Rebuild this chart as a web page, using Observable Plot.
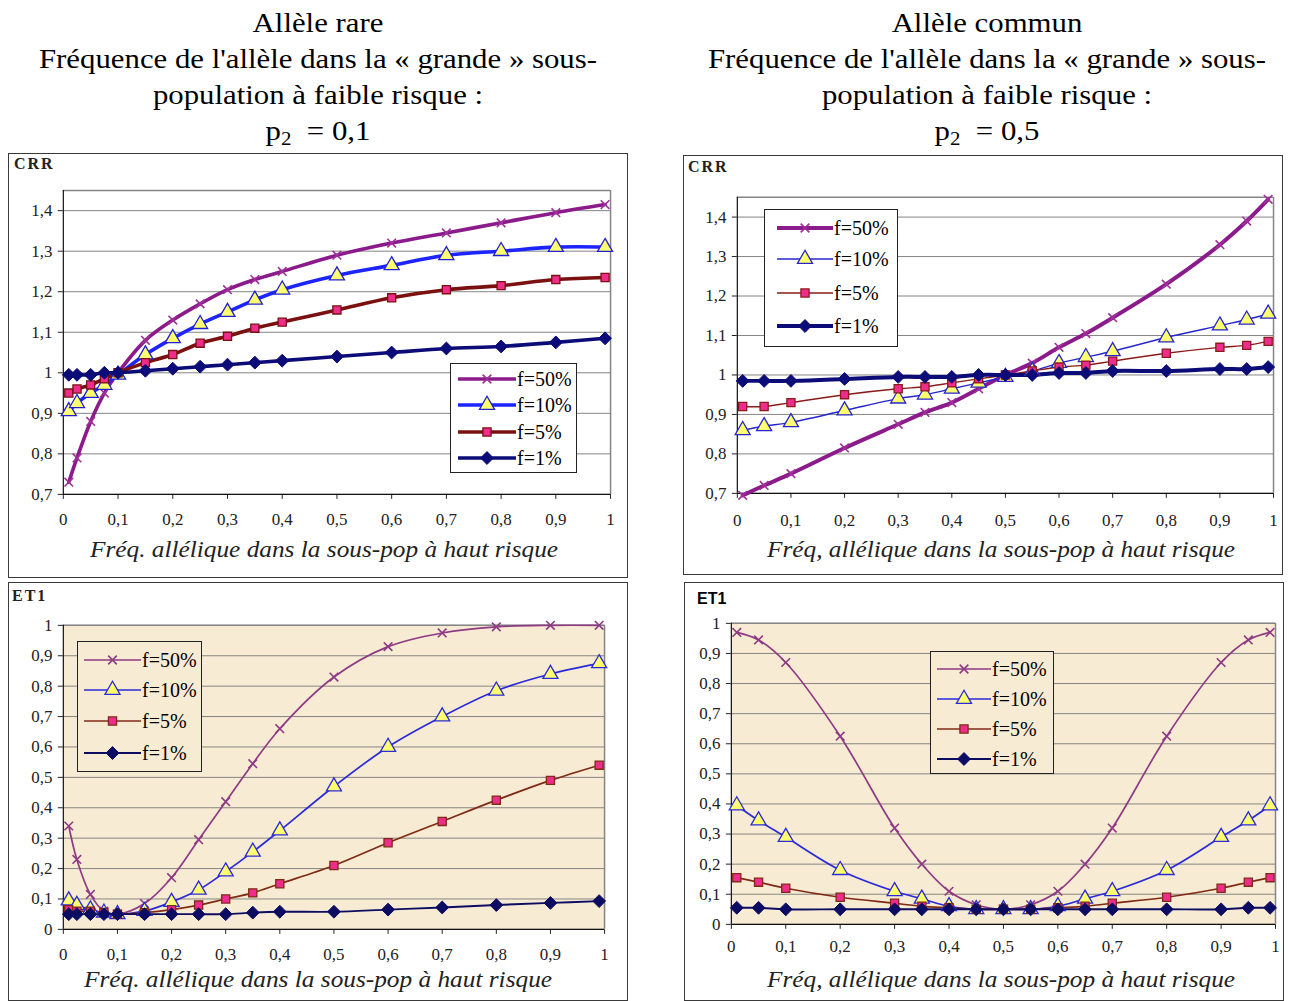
<!DOCTYPE html>
<html>
<head>
<meta charset="utf-8">
<script src="https://cdn.jsdelivr.net/npm/d3@7"></script>
<script src="https://cdn.jsdelivr.net/npm/@observablehq/plot@0.6"></script>
<style>
  html, body { margin: 0; padding: 0; background: #fff; }
  #page { position: relative; width: 1293px; height: 1001px; overflow: hidden; font-family: "Liberation Serif", "Times New Roman", serif; }
  .title { position: absolute; top: 5px; width: 640px; text-align: center; font-size: 28px; line-height: 36px; color: #000; transform: scaleX(1.1); transform-origin: 50% 0; }
  .title sub { font-size: 19px; vertical-align: -5px; line-height: 0; }
  .box { position: absolute; border: 1px solid #3a3a3a; box-sizing: border-box; background: #fff; }
  .box svg { position: absolute; left: -1px; top: -1px; overflow: visible; }
  .ylab { position: absolute; font-size: 16px; font-weight: bold; letter-spacing: 2px; color: #222; }
  .xt { position: absolute; font-style: italic; font-size: 23px; white-space: nowrap; transform: translate(-50%, -50%) scaleX(1.1); color: #222; }
  .legend { position: absolute; border: 1px solid #222; box-sizing: border-box; }
  .legend .row { position: absolute; left: 0; height: 20px; display: flex; align-items: center; font-size: 20px; white-space: nowrap; transform: translateY(-50%); }
</style>
</head>
<body>
<div id="page"></div>
<script>
// ---------------- DATA ----------------
const seriesNames = ["f=50%", "f=10%", "f=5%", "f=1%"];
const xTicks = [0, 0.1, 0.2, 0.3, 0.4, 0.5, 0.6, 0.7, 0.8, 0.9, 1];
const crrTicks = [0.7, 0.8, 0.9, 1, 1.1, 1.2, 1.3, 1.4];
const et1Ticks = [0, 0.1, 0.2, 0.3, 0.4, 0.5, 0.6, 0.7, 0.8, 0.9, 1];

// Allèle rare (p2 = 0,1)
const xRare = [0.01, 0.025, 0.05, 0.075, 0.1, 0.15, 0.2, 0.25, 0.3, 0.35, 0.4, 0.5, 0.6, 0.7, 0.8, 0.9, 0.99];
const crrRare50 = [0.73, 0.79, 0.88, 0.95, 1.0, 1.08, 1.13, 1.17, 1.205, 1.23, 1.25, 1.29, 1.32, 1.345, 1.37, 1.395, 1.415];
const crrRare10 = [0.905, 0.925, 0.95, 0.97, 0.995, 1.045, 1.085, 1.12, 1.15, 1.18, 1.205, 1.24, 1.265, 1.29, 1.30, 1.31, 1.31];
const crrRare5  = [0.95, 0.96, 0.97, 0.985, 1.0, 1.025, 1.045, 1.073, 1.09, 1.11, 1.125, 1.155, 1.185, 1.205, 1.215, 1.23, 1.235];
const crrRare1  = [0.995, 0.995, 0.995, 1.0, 1.0, 1.005, 1.01, 1.015, 1.02, 1.025, 1.03, 1.04, 1.05, 1.06, 1.065, 1.075, 1.085];
const et1Rare50 = [0.34, 0.23, 0.115, 0.06, 0.05, 0.085, 0.17, 0.295, 0.42, 0.545, 0.66, 0.83, 0.93, 0.975, 0.995, 1.0, 1.0];
const et1Rare10 = [0.095, 0.08, 0.065, 0.055, 0.05, 0.06, 0.09, 0.13, 0.19, 0.255, 0.325, 0.47, 0.60, 0.70, 0.785, 0.84, 0.875];
const et1Rare5  = [0.065, 0.06, 0.06, 0.055, 0.05, 0.055, 0.065, 0.08, 0.10, 0.12, 0.15, 0.21, 0.285, 0.355, 0.425, 0.49, 0.54];
const et1Rare1  = [0.05, 0.05, 0.05, 0.05, 0.05, 0.05, 0.05, 0.05, 0.05, 0.055, 0.058, 0.058, 0.065, 0.072, 0.08, 0.087, 0.093];

// Allèle commun (p2 = 0,5)
const xCommon = [0.01, 0.05, 0.1, 0.2, 0.3, 0.35, 0.4, 0.45, 0.5, 0.55, 0.6, 0.65, 0.7, 0.8, 0.9, 0.95, 0.99];
const crrCommon50 = [0.695, 0.72, 0.75, 0.815, 0.875, 0.905, 0.93, 0.965, 1.0, 1.03, 1.07, 1.105, 1.145, 1.23, 1.33, 1.39, 1.445];
const crrCommon10 = [0.86, 0.87, 0.88, 0.91, 0.94, 0.95, 0.965, 0.98, 0.995, 1.01, 1.03, 1.045, 1.06, 1.095, 1.125, 1.14, 1.155];
const crrCommon5  = [0.92, 0.92, 0.93, 0.95, 0.965, 0.97, 0.98, 0.99, 1.0, 1.01, 1.02, 1.025, 1.035, 1.055, 1.07, 1.075, 1.085];
const crrCommon1  = [0.985, 0.985, 0.985, 0.99, 0.995, 0.995, 0.995, 1.0, 1.0, 1.0, 1.005, 1.005, 1.01, 1.01, 1.015, 1.015, 1.02];
const et1Common50 = [0.97, 0.945, 0.87, 0.625, 0.32, 0.2, 0.11, 0.065, 0.05, 0.065, 0.11, 0.2, 0.32, 0.625, 0.87, 0.945, 0.97];
const et1Common10 = [0.395, 0.345, 0.29, 0.18, 0.11, 0.085, 0.06, 0.05, 0.05, 0.05, 0.06, 0.085, 0.11, 0.18, 0.29, 0.345, 0.395];
const et1Common5  = [0.155, 0.14, 0.12, 0.09, 0.07, 0.06, 0.055, 0.05, 0.05, 0.05, 0.055, 0.06, 0.07, 0.09, 0.12, 0.14, 0.155];
const et1Common1  = [0.055, 0.055, 0.05, 0.05, 0.05, 0.05, 0.05, 0.05, 0.05, 0.05, 0.05, 0.05, 0.05, 0.05, 0.05, 0.055, 0.055];

// ---------------- HELPERS ----------------
const fmt = d => String(d).replace(".", ",");
const page = document.getElementById("page");

function rows(xs, ...ys) {
  const out = [];
  ys.forEach((arr, si) => arr.forEach((v, i) => out.push({x: xs[i], y: v, s: seriesNames[si]})));
  return out;
}

const markers = [
  {symbol: "times", fill: "none", r: 4, sw: 1.6},
  {symbol: "triangle", fill: "#ffff70", r: 5.6, sw: 1.3},
  {symbol: "square", fill: "#ee2c8c", r: 4.6, sw: 1.3},
  {symbol: "diamond2", fill: null, r: 5.8, sw: 1}
];
const d3sym = {times: d3.symbolTimes, triangle: d3.symbolTriangle, square: d3.symbolSquare, diamond2: d3.symbolDiamond2};

function addDiv(cls, css, html) {
  const d = document.createElement("div");
  d.className = cls;
  Object.assign(d.style, css);
  if (html != null) d.innerHTML = html;
  page.appendChild(d);
  return d;
}

function panel(cfg) {
  const {left, top, w, h, ml, mr, mt, mb, data, yDomain, yTicks, bg, widths, colors, mstroke, xPad} = cfg;
  const box = addDiv("box", {left: left + "px", top: top + "px", width: w + "px", height: h + "px"});
  const marks = [];
  if (bg) marks.push(Plot.frame({fill: bg, stroke: null}));
  marks.push(Plot.gridY(yTicks, {stroke: "#858585", strokeOpacity: 1, strokeWidth: 1}));
  marks.push(Plot.ruleY([yDomain[1]], {stroke: "#858585", strokeWidth: 1.5}));
  marks.push(Plot.ruleX([1], {stroke: "#858585", strokeWidth: 1.5}));
  marks.push(Plot.ruleY([yDomain[0]], {stroke: "#111", strokeWidth: 1.2}));
  marks.push(Plot.ruleX([0], {stroke: "#111", strokeWidth: 1.2}));
  seriesNames.forEach((name, si) => {
    const sub = data.filter(d => d.s === name);
    marks.push(Plot.line(sub, {x: "x", y: "y", stroke: colors[si], strokeWidth: widths[si], curve: "catmull-rom"}));
  });
  seriesNames.forEach((name, si) => {
    const sub = data.filter(d => d.s === name);
    const m = markers[si];
    marks.push(Plot.dot(sub, {x: "x", y: "y", symbol: m.symbol, r: m.r,
      fill: m.fill === null ? colors[si] : m.fill,
      stroke: mstroke[si], strokeWidth: m.sw}));
  });
  const chart = Plot.plot({
    width: w, height: h,
    marginLeft: ml, marginRight: mr, marginTop: mt, marginBottom: mb,
    style: {background: "transparent", fontFamily: "'Liberation Serif', serif", fontSize: "17px", color: "#222", overflow: "visible"},
    x: {domain: [0, 1], ticks: xTicks, tickFormat: fmt, tickSize: 5, tickPadding: xPad, label: null},
    y: {domain: yDomain, ticks: yTicks, tickFormat: fmt, tickSize: 5, tickPadding: 6, label: null},
    marks
  });
  box.appendChild(chart);
  return box;
}

function legend(cfg) {
  const {left, top, w, h, rowsY, lineX0, lineX1, colors, widths, mstroke, bg} = cfg;
  const lg = addDiv("legend", {left: left + "px", top: top + "px", width: w + "px", height: h + "px", background: bg});
  seriesNames.forEach((name, si) => {
    const m = markers[si];
    const lw = lineX1 - lineX0;
    const size = Math.PI * m.r * m.r;
    const path = d3.symbol(d3sym[m.symbol], size)();
    const fill = m.fill === null ? colors[si] : m.fill;
    const svg = `<svg width="${lw}" height="20" style="overflow:visible"><line x1="0" x2="${lw}" y1="10" y2="10" stroke="${colors[si]}" stroke-width="${widths[si]}"/>` +
      `<path transform="translate(${lw / 2},10)" d="${path}" fill="${fill}" stroke="${mstroke[si]}" stroke-width="${m.sw}"/></svg>`;
    const r = document.createElement("div");
    r.className = "row";
    r.style.top = (rowsY[si] - top) + "px";
    r.style.left = (lineX0 - left - 1) + "px";
    r.innerHTML = svg + `<span style="margin-left:1px">${name}</span>`;
    lg.appendChild(r);
  });
}

// ---------------- TITLES ----------------
addDiv("title", {left: "-2px"}, "Allèle rare<br>Fréquence de l'allèle dans la « grande » sous-<br>population à faible risque :<br>p<sub>2</sub>&nbsp; = 0,1");
addDiv("title", {left: "667px"}, "Allèle commun<br>Fréquence de l'allèle dans la « grande » sous-<br>population à faible risque :<br>p<sub>2</sub>&nbsp; = 0,5");

// ---------------- PANELS ----------------
const topColorsL = ["#8b1a8b", "#1c24ff", "#7a1010", "#0c0c78"];
const topStrokeL = ["#a0309a", "#2020d0", "#7a1010", "#0c0c78"];
const topColorsR = ["#8b1a8b", "#2626cc", "#8b1a1a", "#0c0c78"];
const topStrokeR = ["#a0309a", "#2626cc", "#8b1a1a", "#0c0c78"];
const botColors = ["#8e3a84", "#2a2ad8", "#7f2a14", "#0c0c62"];
const botStroke = ["#8e3a84", "#2a2ad8", "#7f2a14", "#0c0c62"];

// Top-left
panel({left: 8, top: 153, w: 620, h: 425, ml: 55, mr: 16, mt: 37, mb: 83, xPad: 14,
  data: rows(xRare, crrRare50, crrRare10, crrRare5, crrRare1),
  yDomain: [0.7, 1.45], yTicks: crrTicks, bg: null,
  widths: [3.6, 3.6, 3.6, 3.6], colors: topColorsL, mstroke: topStrokeL});
// Top-right
panel({left: 683, top: 155, w: 600, h: 420, ml: 54, mr: 8, mt: 42, mb: 81, xPad: 16,
  data: rows(xCommon, crrCommon50, crrCommon10, crrCommon5, crrCommon1),
  yDomain: [0.7, 1.45], yTicks: crrTicks, bg: null,
  widths: [4, 1.4, 1.4, 4], colors: topColorsR, mstroke: topStrokeR});
// Bottom-left
panel({left: 8, top: 582, w: 620, h: 419, ml: 55, mr: 22, mt: 43, mb: 71, xPad: 14,
  data: rows(xRare, et1Rare50, et1Rare10, et1Rare5, et1Rare1),
  yDomain: [0, 1], yTicks: et1Ticks, bg: "#f8ebd3",
  widths: [1.7, 1.7, 1.7, 1.9], colors: botColors, mstroke: botStroke});
// Bottom-right
panel({left: 684, top: 582, w: 600, h: 419, ml: 47, mr: 7, mt: 41, mb: 76, xPad: 11,
  data: rows(xCommon, et1Common50, et1Common10, et1Common5, et1Common1),
  yDomain: [0, 1], yTicks: et1Ticks, bg: "#f8ebd3",
  widths: [1.7, 1.7, 1.7, 1.9], colors: botColors, mstroke: botStroke});

// ---------------- Y LABELS ----------------
addDiv("ylab", {left: "14px", top: "155px"}, "CRR");
addDiv("ylab", {left: "688px", top: "158px"}, "CRR");
addDiv("ylab", {left: "12px", top: "587px"}, "ET1");
addDiv("ylab", {left: "697px", top: "590px", fontFamily: "'Liberation Sans', Arial, sans-serif", letterSpacing: "0px", fontSize: "16px", color: "#000"}, "ET1");

// ---------------- X TITLES ----------------
addDiv("xt", {left: "324px", top: "550px"}, "Fréq. allélique dans la sous-pop à haut risque");
addDiv("xt", {left: "1001px", top: "550px"}, "Fréq, allélique dans la sous-pop à haut risque");
addDiv("xt", {left: "318px", top: "980px"}, "Fréq. allélique dans la sous-pop à haut risque");
addDiv("xt", {left: "1001px", top: "980px"}, "Fréq, allélique dans la sous-pop à haut risque");

// ---------------- LEGENDS ----------------
legend({left: 450, top: 363, w: 127, h: 110, rowsY: [378, 404, 431, 457], lineX0: 458, lineX1: 516,
  colors: topColorsL, widths: [3.6, 3.6, 3.6, 3.6], mstroke: topStrokeL, bg: "#fff"});
legend({left: 764, top: 209, w: 134, h: 138, rowsY: [227, 258, 292, 325], lineX0: 777, lineX1: 833,
  colors: topColorsR, widths: [4, 1.4, 1.4, 4], mstroke: topStrokeR, bg: "#fff"});
legend({left: 77, top: 641, w: 125, h: 131, rowsY: [659, 689, 720, 752], lineX0: 84, lineX1: 141,
  colors: botColors, widths: [1.7, 1.7, 1.7, 1.9], mstroke: botStroke, bg: "#f8ebd3"});
legend({left: 930, top: 651, w: 124, h: 123, rowsY: [668, 698, 728, 758], lineX0: 937, lineX1: 991,
  colors: botColors, widths: [1.7, 1.7, 1.7, 1.9], mstroke: botStroke, bg: "#f8ebd3"});
</script>
</body>
</html>
